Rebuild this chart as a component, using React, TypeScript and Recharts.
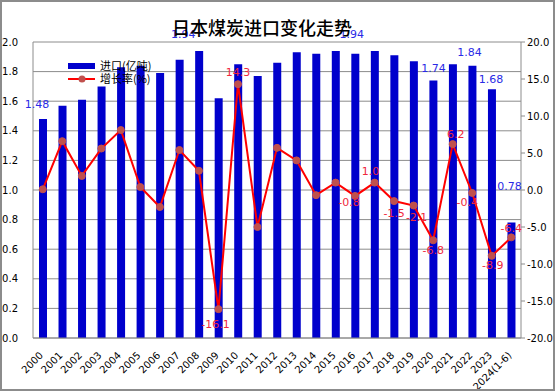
import React from 'react';
import { ComposedChart, Bar, Line, XAxis, YAxis, CartesianGrid, LabelList } from 'recharts';

const years = ['2000','2001','2002','2003','2004','2005','2006','2007','2008','2009','2010','2011','2012','2013','2014','2015','2016','2017','2018','2019','2020','2021','2022','2023','2024(1-6)'];
const imports = [1.48,1.57,1.61,1.70,1.83,1.84,1.79,1.88,1.94,1.62,1.85,1.77,1.86,1.93,1.92,1.94,1.92,1.94,1.91,1.87,1.74,1.85,1.84,1.68,0.78];
const growth = [0.1,6.6,1.9,5.6,8.1,0.4,-2.3,5.4,2.6,-16.1,14.3,-5.0,5.7,4.0,-0.7,1.0,-0.8,1.0,-1.5,-2.1,-6.8,6.2,-0.4,-8.9,-6.4];
const leftTicks = [0,0.2,0.4,0.6,0.8,1.0,1.2,1.4,1.6,1.8,2.0];
const rightTicks = [-20,-15,-10,-5,0,5,10,15,20];

// label placement (style): [dx, dy] relative to mark, only where a label is shown
const barLabelOffsets: Record<number, [number, number]> = {
  0: [-6, -14], 8: [-16, -16], 17: [-23, -16], 20: [0, -12], 22: [-3, -13], 23: [-1, -10], 24: [-2, -36],
};
const lineLabelOffsets: Record<number, [number, number]> = {
  9: [-3, 15], 10: [0, -12], 16: [-6, 7], 17: [-4, -11], 18: [0, 12], 19: [3, 12], 20: [0, 10], 21: [3, -10], 22: [-5, 10], 23: [1, 10], 24: [0, -9],
};

const data = years.map((y, i) => ({ year: y, imp: imports[i], gr: growth[i] }));

const FONT = '"DejaVu Sans", sans-serif';
const CJK = '"Noto Sans CJK SC", sans-serif';

const BarLabel = (props: any) => {
  const { x, y, width, index, value } = props;
  const off = barLabelOffsets[index];
  if (!off) return null;
  return (
    <text x={x + width / 2 + off[0]} y={y + off[1]} fill="#2a2ae6" fontSize={11} fontFamily={FONT} textAnchor="middle" dominantBaseline="central">
      {Number(value).toFixed(2)}
    </text>
  );
};

const LineLabel = (props: any) => {
  const { x, y, index, value } = props;
  const off = lineLabelOffsets[index];
  if (!off) return null;
  return (
    <text x={x + off[0]} y={y + off[1]} fill="#f0283c" fontSize={11} fontFamily={FONT} textAnchor="middle" dominantBaseline="central">
      {Number(value).toFixed(1)}
    </text>
  );
};

const XTick = (props: any) => {
  const { x, y, payload } = props;
  return (
    <g transform={`translate(${x + 1},${y + 16})`}>
      <text transform="rotate(-45)" textAnchor="end" fontSize={10} fontFamily={FONT} fill="#000">{payload.value}</text>
    </g>
  );
};

export default function App() {
  return (
    <div style={{ position: 'absolute', left: 0, top: 0, width: 556, height: 392, background: '#fff' }}>
      <ComposedChart width={556} height={392} data={data} margin={{ top: 42, right: 0, bottom: 0, left: 0 }}>
        <CartesianGrid yAxisId="left" vertical={false} stroke="#8c8c8c" strokeWidth={1} />
        <XAxis dataKey="year" height={54} interval={0} tickLine={false} tickSize={0} tick={<XTick />} axisLine={{ stroke: '#8c8c8c' }} />
        <YAxis yAxisId="left" domain={[0, 2]} ticks={leftTicks} width={33} tickLine={false} axisLine={{ stroke: '#8c8c8c' }}
          tick={{ fontSize: 10, fontFamily: FONT, fill: '#000' }} tickFormatter={(v: number) => v.toFixed(1)} tickMargin={9} />
        <YAxis yAxisId="right" orientation="right" domain={[-20, 20]} ticks={rightTicks} width={35} tickSize={4}
          tickLine={{ stroke: '#8c8c8c' }} axisLine={{ stroke: '#8c8c8c' }}
          tick={{ fontSize: 10, fontFamily: FONT, fill: '#000' }} tickFormatter={(v: number) => v.toFixed(1)} tickMargin={2} />
        <Bar yAxisId="left" dataKey="imp" fill="#0000cc" barSize={8} isAnimationActive={false}>
          <LabelList dataKey="imp" content={<BarLabel />} />
        </Bar>
        <Line yAxisId="right" dataKey="gr" stroke="#ff0000" strokeWidth={2} isAnimationActive={false}
          dot={{ r: 3.5, fill: '#c0504d', stroke: '#c0504d', strokeWidth: 1 }} activeDot={false}>
          <LabelList dataKey="gr" content={<LineLabel />} />
        </Line>
      </ComposedChart>
      <div style={{ position: 'absolute', left: 68, top: 59, width: 120, fontFamily: CJK, fontSize: 11, color: '#000', lineHeight: '13px' }}>
        <div style={{ display: 'flex', alignItems: 'center', height: 13 }}>
          <div style={{ width: 27, height: 6, background: '#0000cc', marginRight: 5 }} />
          <span>进口(亿吨)</span>
        </div>
        <div style={{ display: 'flex', alignItems: 'center', height: 13 }}>
          <svg width={27} height={8} style={{ marginRight: 5 }}>
            <line x1={0} y1={4} x2={27} y2={4} stroke="#ff0000" strokeWidth={2} />
            <circle cx={14} cy={4} r={3.5} fill="#c0504d" />
          </svg>
          <span>增长率(%)</span>
        </div>
      </div>
      <div style={{ position: 'absolute', left: 0, top: 14, width: 524, textAlign: 'center', fontFamily: CJK, fontSize: 18, fontWeight: 500, color: '#000', lineHeight: '26px' }}>
        日本煤炭进口变化走势
      </div>
      <div style={{ position: 'absolute', left: 0, top: 0, width: 555, height: 391, boxSizing: 'border-box', border: '2px solid #8c8c8c', pointerEvents: 'none' }} />
    </div>
  );
}
